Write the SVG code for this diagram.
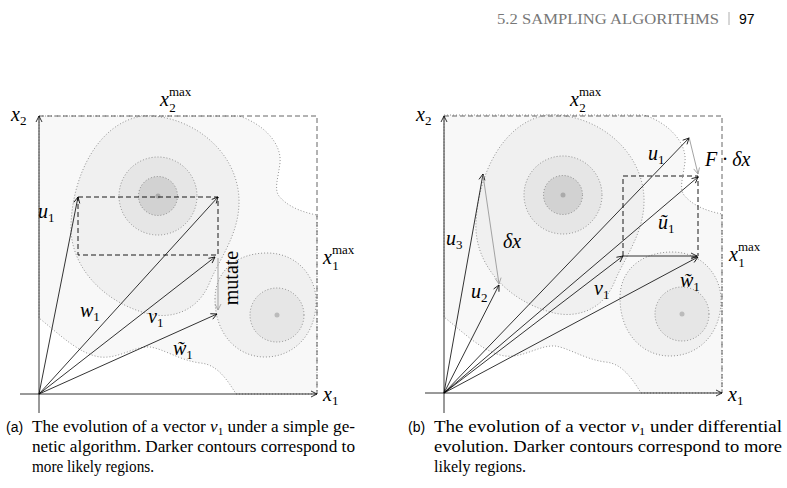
<svg xmlns="http://www.w3.org/2000/svg" width="787" height="488" viewBox="0 0 787 488">
<style>
.ax{stroke:#000;stroke-width:0.8;fill:none}
.v{stroke:#000;stroke-width:0.8;fill:none;marker-end:url(#ah)}
.g{stroke:#999;stroke-width:0.9;fill:none;marker-end:url(#ahg)}
.dash{stroke:#000;stroke-width:0.9;fill:none;stroke-dasharray:5 3}
.bd{stroke:#555;stroke-width:0.9;fill:none;stroke-dasharray:5 3}
.dot{stroke:#666;stroke-width:0.7;stroke-dasharray:1 2}
.m{font-family:"Liberation Serif",serif;font-style:italic;font-size:20px;fill:#000}
.sub{font-size:13px;font-style:normal}
.sup{font-family:"Liberation Serif",serif;font-size:13px;font-style:normal;fill:#000}
.cap{font-family:"Liberation Serif",serif;font-size:17px;fill:#000}
</style>
<defs>
<marker id="ah" markerWidth="8" markerHeight="8" refX="7" refY="4" orient="auto" markerUnits="userSpaceOnUse"><path d="M1,1 L7,4 L1,7" fill="none" stroke="#000" stroke-width="0.8"/></marker>
<marker id="ahg" markerWidth="8" markerHeight="8" refX="7" refY="4" orient="auto" markerUnits="userSpaceOnUse"><path d="M1,1 L7,4 L1,7" fill="none" stroke="#999" stroke-width="0.8"/></marker>
<g id="bg">
<path d="M0,-278 H200 C225,-270 243,-250 241,-231 C239,-215 235,-205 240,-198 C248,-188 262,-182 278,-179 V0 H197 C185,-20 175,-30 161,-31 C140,-34 125,-45 111,-47 C95,-48 80,-35 61,-37 C40,-40 20,-60 0,-76 Z" fill="#f8f8f8" class="dot"/>
<path d="M104,-278 C150,-280 198,-245 200,-195 C201,-160 180,-135 170,-110 C158,-82 132,-75 110,-80 C62,-92 30,-130 32,-170 C34,-220 60,-272 104,-278 Z" fill="#f0f0f0" class="dot"/>
<path d="M176,-95 C176,-125 200,-141 228,-141 C258,-141 276,-118 277,-95 C278,-60 255,-37 226,-37 C198,-37 176,-60 176,-95 Z" fill="#f0f0f0" class="dot"/>
<circle cx="119" cy="-198" r="39" fill="#e6e6e6" class="dot"/>
<circle cx="119" cy="-198" r="19.5" fill="#d2d2d2" class="dot"/>
<circle cx="119" cy="-198" r="2.5" fill="#aaa"/>
<circle cx="238" cy="-79" r="27" fill="#e6e6e6" class="dot"/>
<circle cx="238" cy="-79" r="2.5" fill="#bbb"/>
</g>
</defs>
<g id="header">
<text x="497" y="24" font-family="Liberation Serif,serif" font-size="15" fill="#777" textLength="222" lengthAdjust="spacingAndGlyphs">5.2 SAMPLING ALGORITHMS</text>
<line x1="729" y1="12" x2="729" y2="25" stroke="#999" stroke-width="0.8"/>
<text x="739" y="24" font-family="Liberation Sans,sans-serif" font-size="14" fill="#000">97</text>
</g>
<g id="panelA">
<use href="#bg" transform="translate(39,394)"/>
<path class="bd" d="M39,116 H317 V394"/>
<g id="axesA">
<line class="v" x1="39" y1="413" x2="39" y2="116"/>
<line class="v" x1="20" y1="394" x2="317" y2="394"/>
</g>
<path class="dash" d="M78,197 H218 V255 H78 Z"/>
<g id="connectorsA">
<line class="v" x1="39" y1="394" x2="78" y2="197"/>
<line class="v" x1="39" y1="394" x2="218" y2="197"/>
<line class="v" x1="39" y1="394" x2="215" y2="257"/>
<line class="v" x1="39" y1="394" x2="217" y2="314"/>
<line class="g" x1="218" y1="258" x2="218" y2="310"/>
</g>
<g id="labelsA">
<text class="m" x="11" y="121">x<tspan class="sub" dy="4">2</tspan></text>
<text class="m" x="160" y="106">x<tspan class="sup" dy="-10">max</tspan><tspan class="sup" dx="-22" dy="16">2</tspan></text>
<text class="m" x="323" y="264">x<tspan class="sup" dy="-10">max</tspan><tspan class="sup" dx="-22" dy="16">1</tspan></text>
<text class="m" x="323" y="401">x<tspan class="sub" dy="4">1</tspan></text>
<text class="m" x="38" y="218">u<tspan class="sub" dy="4">1</tspan></text>
<text class="m" x="80" y="317">w<tspan class="sub" dy="4">1</tspan></text>
<text class="m" x="148" y="323">v<tspan class="sub" dy="4">1</tspan></text>
<text class="m" x="173" y="355">w̃<tspan class="sub" dy="4">1</tspan></text>
<text x="0" y="0" font-family="Liberation Serif,serif" font-size="20" text-anchor="middle" transform="translate(238,278) rotate(-90)">mutate</text>
</g>
</g>
<g id="panelB">
<use href="#bg" transform="translate(444,393)"/>
<path class="bd" d="M444,116 H722 V393"/>
<g id="axesB">
<line class="v" x1="444" y1="413" x2="444" y2="116"/>
<line class="v" x1="425" y1="393" x2="722" y2="393"/>
</g>
<path class="dash" d="M623,256 V176 H698 V256"/>
<g id="connectorsB">
<line class="v" x1="623" y1="256" x2="697" y2="256"/>
<line class="v" x1="444" y1="393" x2="483" y2="174"/>
<line class="v" x1="444" y1="393" x2="499" y2="285"/>
<line class="v" x1="444" y1="393" x2="689" y2="138"/>
<line class="v" x1="444" y1="393" x2="698" y2="177"/>
<line class="v" x1="444" y1="393" x2="623" y2="256"/>
<line class="v" x1="444" y1="393" x2="698" y2="257"/>
<line class="g" x1="483" y1="175" x2="499" y2="284"/>
<line class="g" x1="689" y1="137" x2="698" y2="174"/>
</g>
<g id="labelsB">
<text class="m" x="416" y="121">x<tspan class="sub" dy="4">2</tspan></text>
<text class="m" x="570" y="106">x<tspan class="sup" dy="-10">max</tspan><tspan class="sup" dx="-22" dy="16">2</tspan></text>
<text class="m" x="729" y="261">x<tspan class="sup" dy="-10">max</tspan><tspan class="sup" dx="-22" dy="16">1</tspan></text>
<text class="m" x="728" y="401">x<tspan class="sub" dy="4">1</tspan></text>
<text class="m" x="446" y="245">u<tspan class="sub" dy="4">3</tspan></text>
<text class="m" x="503" y="248">δx</text>
<text class="m" x="471" y="298">u<tspan class="sub" dy="4">2</tspan></text>
<text class="m" x="648" y="160">u<tspan class="sub" dy="4">1</tspan></text>
<text class="m" x="705" y="166">F · δx</text>
<text class="m" x="658" y="229">ũ<tspan class="sub" dy="4">1</tspan></text>
<text class="m" x="594" y="295">v<tspan class="sub" dy="4">1</tspan></text>
<text class="m" x="680" y="287">w̃<tspan class="sub" dy="4">1</tspan></text>
</g>
</g>
<g id="captions" class="cap">
<text x="6" y="432"><tspan font-family="Liberation Sans,sans-serif" font-size="14">(a)</tspan></text>
<text x="32" y="432" textLength="323" lengthAdjust="spacingAndGlyphs">The evolution of a vector <tspan font-style="italic">v</tspan><tspan font-size="11" dy="3">1</tspan><tspan dy="-3"> under a simple ge-</tspan></text>
<text x="32" y="452" textLength="323" lengthAdjust="spacingAndGlyphs">netic algorithm. Darker contours correspond to</text>
<text x="32" y="472" textLength="122" lengthAdjust="spacingAndGlyphs">more likely regions.</text>
<text x="408" y="432"><tspan font-family="Liberation Sans,sans-serif" font-size="14">(b)</tspan></text>
<text x="434" y="432" textLength="348" lengthAdjust="spacingAndGlyphs">The evolution of a vector <tspan font-style="italic">v</tspan><tspan font-size="11" dy="3">1</tspan><tspan dy="-3"> under differential</tspan></text>
<text x="434" y="452" textLength="348" lengthAdjust="spacingAndGlyphs">evolution. Darker contours correspond to more</text>
<text x="434" y="472" textLength="92" lengthAdjust="spacingAndGlyphs">likely regions.</text>
</g>
</svg>
